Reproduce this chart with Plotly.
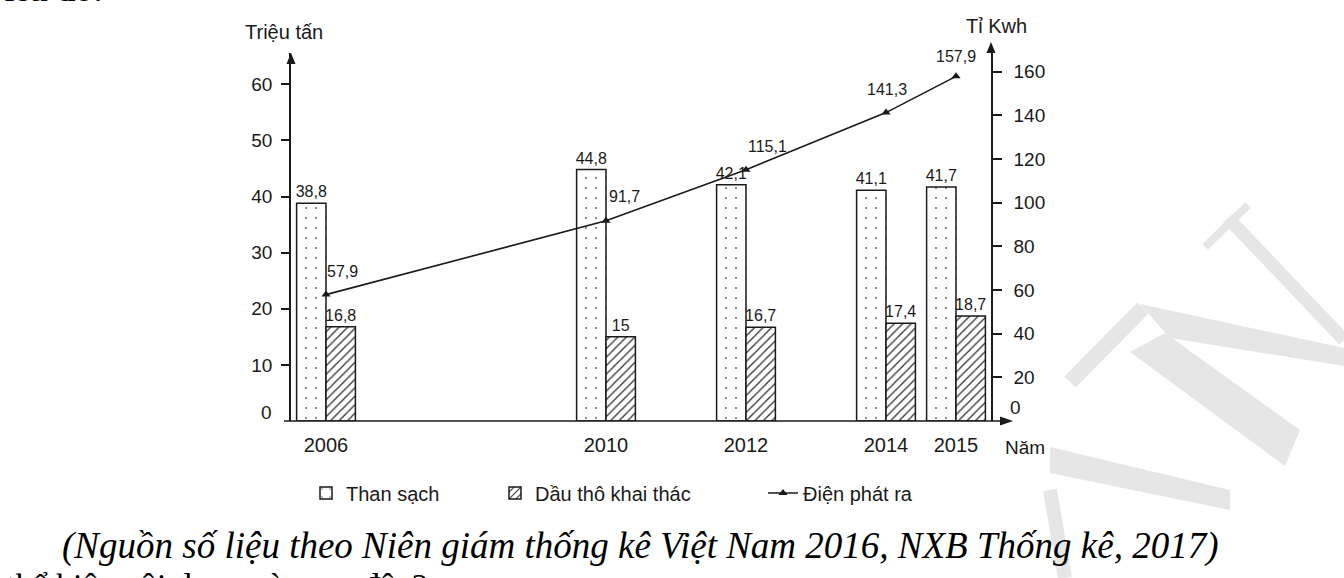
import plotly.graph_objects as go

# ---------------- data ----------------
years = [2006, 2010, 2012, 2014, 2015]
than_sach = [38.8, 44.8, 42.1, 41.1, 41.7]          # triệu tấn
dau_tho = [16.8, 15.0, 16.7, 17.4, 18.7]            # triệu tấn
dien_phat_ra = [57.9, 91.7, 115.1, 141.3, 157.9]    # tỉ kWh
left_ticks = [10, 20, 30, 40, 50, 60]
right_ticks = [20, 40, 60, 80, 100, 120, 140, 160]
year_labels = [str(y) for y in years]

# label offsets (pixels) for the line values
line_label_dx = [16, 18, 21, 1, 0]
line_label_dy = [23, 24, 23, 23, 20]

W, H = 1344, 578
FONT = "Liberation Sans"
SERIF = "Liberation Serif"
INK = "#1a1a1a"
BAR_W = 0.42


def fmt(v):
    return f"{v:g}".replace(".", ",")


def px(x):
    return x / W


def py(y):
    return 1 - y / H


fig = go.Figure()

fig.add_trace(go.Bar(
    x=years, y=than_sach, width=BAR_W, offset=-BAR_W, name="Than sạch",
    marker=dict(color="white", line=dict(color=INK, width=1.5),
                pattern=dict(shape=".", fgcolor="#666666", bgcolor="white",
                             size=10, solidity=0.03)),
    text=[fmt(v) for v in than_sach], textposition="outside",
    constraintext="none", cliponaxis=False,
    textfont=dict(family=FONT, size=16, color=INK),
    legend="legend", hoverinfo="skip",
))

fig.add_trace(go.Bar(
    x=years, y=dau_tho, width=BAR_W, offset=0, name="Dầu thô khai thác",
    marker=dict(color="white", line=dict(color=INK, width=1.5),
                pattern=dict(shape="/", fgcolor="#333333", bgcolor="white",
                             size=6, solidity=0.22)),
    text=[fmt(v) for v in dau_tho], textposition="outside",
    constraintext="none", cliponaxis=False,
    textfont=dict(family=FONT, size=16, color=INK),
    legend="legend2", hoverinfo="skip",
))

fig.add_trace(go.Scatter(
    x=years, y=dien_phat_ra, yaxis="y2", mode="lines+markers",
    name="Điện phát ra",
    line=dict(color=INK, width=1.6),
    marker=dict(symbol="triangle-up", size=8, color=INK),
    cliponaxis=False, legend="legend3", hoverinfo="skip",
))

annotations = []
for yr, v, dx, dy in zip(years, dien_phat_ra, line_label_dx, line_label_dy):
    annotations.append(dict(
        x=yr, y=v, xref="x", yref="y2", text=fmt(v), showarrow=False,
        xanchor="center", yanchor="middle",
        xshift=dx, yshift=dy, font=dict(family=FONT, size=16, color=INK),
    ))


def note(x, y, text, size, xanchor="center", yanchor="middle", family=FONT, color=INK):
    return dict(x=px(x), y=py(y), xref="paper", yref="paper", text=text,
                xanchor=xanchor, yanchor=yanchor, showarrow=False,
                font=dict(family=family, size=size, color=color))


annotations += [
    note(284, 32, "Triệu tấn", 20),
    note(996, 26, "Tỉ Kwh", 20),
    note(1025, 447, "Năm", 19),
    note(274, 412, "0", 19, xanchor="right"),
    note(1008, 407, "0", 19, xanchor="left"),
    # source caption
    note(60, 546, "<i>(Nguồn số liệu theo Niên giám thống kê Việt Nam 2016, NXB Thống kê, 2017)</i>",
         37, xanchor="left", family=SERIF, color="black"),
    # cropped surrounding page text
    note(106, 10, "<b>Biểu đồ:</b>", 34, xanchor="right", yanchor="bottom",
         family=SERIF, color="black"),
    note(4, 565, "thể hiện nội dung nào sau đây?", 34, xanchor="left", yanchor="top",
         family=SERIF, color="black"),
]


def poly(points, color, layer="below"):
    d = "M " + " L ".join(f"{px(x):.5f},{py(y):.5f}" for x, y in points) + " Z"
    return dict(type="path", path=d, xref="paper", yref="paper",
                fillcolor=color, line=dict(width=0), layer=layer)


def seg(x0, y0, x1, y1, width, color, layer="above"):
    return dict(type="line", x0=px(x0), y0=py(y0), x1=px(x1), y1=py(y1),
                xref="paper", yref="paper", line=dict(color=color, width=width),
                layer=layer)


WM = "#e6e6e6"
shapes = [
    # watermark
    seg(1070, 382, 1143, 308, 16, WM, "below"),
    poly([(1140, 304), (1344, 348), (1344, 366), (1170, 338)], WM),
    poly([(1165, 333), (1300, 430), (1285, 466), (1130, 352)], WM),
    seg(1228, 218, 1344, 340, 13, WM, "below"),
    seg(1205, 247, 1248, 205, 8, WM, "below"),
    poly([(1050, 447), (1230, 490), (1230, 510), (1050, 473)], WM),
    seg(1050, 490, 1065, 578, 14, WM, "below"),
    # x axis line with arrow
    seg(284, 421, 1003, 421, 1.5, INK),
    poly([(1013, 421), (1000, 416.5), (1000, 425.5)], INK, "above"),
    # y axes arrows
    poly([(291, 53), (286.5, 64), (295.5, 64)], INK, "above"),
    poly([(991, 42), (986.5, 53), (995.5, 53)], INK, "above"),
]

leg_common = dict(orientation="h", xanchor="left", yanchor="middle", y=py(493),
                  font=dict(family=FONT, size=20, color=INK),
                  bgcolor="rgba(0,0,0,0)", borderwidth=0, itemwidth=30)

fig.update_layout(
    template="none",
    width=W, height=H,
    margin=dict(l=0, r=0, t=0, b=0),
    paper_bgcolor="white", plot_bgcolor="rgba(0,0,0,0)",
    font=dict(family=FONT, color=INK),
    barmode="overlay",
    showlegend=True,
    legend=dict(x=px(306), **leg_common),
    legend2=dict(x=px(495), **leg_common),
    legend3=dict(x=px(763), **leg_common),
    xaxis=dict(domain=[px(291), px(991)], range=[2005.5, 2015.5],
               tickvals=years, ticktext=year_labels, ticks="",
               showline=False, showgrid=False, zeroline=False,
               ticklabelstandoff=10,
               tickfont=dict(family=FONT, size=20, color=INK)),
    yaxis=dict(domain=[py(421), py(53)], range=[0, 65.58],
               tickvals=left_ticks, ticks="outside", ticklen=8, tickwidth=1.5,
               tickcolor=INK, showline=True, linecolor=INK, linewidth=1.5,
               showgrid=False, zeroline=False, ticklabelstandoff=5,
               tickfont=dict(family=FONT, size=19, color=INK)),
    yaxis2=dict(overlaying="y", side="right", anchor="x", range=[0, 168.6],
                tickvals=right_ticks, ticks="outside", ticklen=9, tickwidth=1.5,
                tickcolor=INK, showline=True, linecolor=INK, linewidth=1.5,
                showgrid=False, zeroline=False, ticklabelstandoff=8,
                tickfont=dict(family=FONT, size=19, color=INK)),
    annotations=annotations,
    shapes=shapes,
)

fig.write_html("out.html",
               config={"displayModeBar": False},
               post_script="document.body.style.margin='0px';document.body.style.overflow='hidden';")
